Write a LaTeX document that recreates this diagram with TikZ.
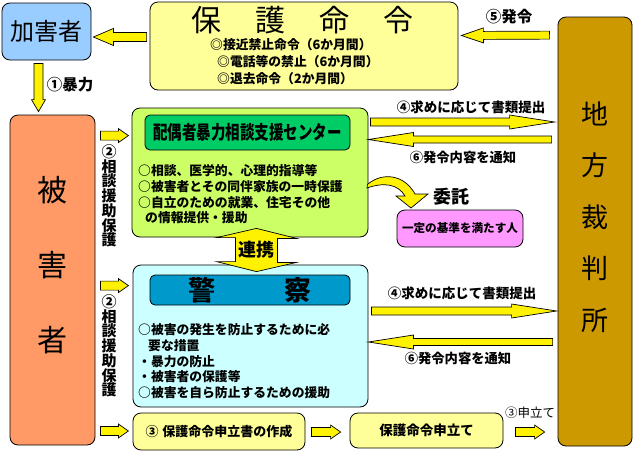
\documentclass[tikz,border=0pt]{standalone}
\usepackage{fontspec}
\usepackage{graphicx}
\setmainfont{Noto Sans CJK JP}
\usetikzlibrary{calc}
\definecolor{kagaiblue}{HTML}{99CCFF}
\definecolor{paleyellow}{HTML}{FFFF99}
\definecolor{courtgold}{HTML}{CC9900}
\definecolor{higaisalmon}{HTML}{FF9966}
\definecolor{centerlime}{HTML}{CCFF66}
\definecolor{centergreen}{HTML}{00CC66}
\definecolor{policecyan}{HTML}{CCFFFF}
\definecolor{policeblue}{HTML}{0099CC}
\definecolor{pinkbox}{HTML}{FF99FF}
\tikzstyle{box}=[draw=black,rounded corners=8pt,inner sep=0pt,line width=.8pt]
\tikzstyle{titlebox}=[draw=black,rounded corners=5pt,inner sep=0pt,line width=.8pt]
\tikzstyle{yarrow}=[fill=yellow,draw=black,line width=.7pt]
\tikzstyle{line}=[inner sep=0pt,anchor=base west,font=\bfseries\fontsize{12.8}{15}\selectfont]
\tikzstyle{lbl}=[inner sep=0pt,font=\bfseries\fontsize{13.5}{16}\selectfont]
\tikzstyle{vlbl}=[inner sep=0pt,align=center,font=\bfseries\fontsize{15}{14.7}\selectfont]
% start, tip, shaft half width, head length, head half width
\newcommand{\blockarrow}[5]{%
  \coordinate (hb) at ($(#2)!#4!(#1)$);
  \filldraw[yarrow] ($(#1)!#3!90:(#2)$) -- ($(hb)!#3!90:(#2)$) -- ($(hb)!#5!90:(#2)$)
    -- (#2) -- ($(hb)!#5!-90:(#2)$) -- ($(hb)!#3!-90:(#2)$) -- ($(#1)!#3!-90:(#2)$) -- cycle;
}
\begin{document}
\begin{tikzpicture}[x=1pt,y=-1pt]
  \useasboundingbox (0,0) rectangle (633,451);

  \node[box,fill=kagaiblue,minimum width=89pt,minimum height=57pt] (kagai) at (46.5,31.5)
    {\fontsize{24}{24}\selectfont 加害者};
  \node[box,fill=paleyellow,minimum width=308pt,minimum height=88pt] (hogo) at (304,46) {};
  \node[box,fill=courtgold,minimum width=74pt,minimum height=429pt] (court) at (595,231.5) {};
  \node[box,fill=higaisalmon,minimum width=85pt,minimum height=330pt] (higai) at (52.5,280) {};
  \node[box,fill=centerlime,minimum width=236pt,minimum height=129pt] (center) at (250,172.5) {};
  \node[titlebox,fill=centergreen,minimum width=205pt,minimum height=35pt] (ctitle) at (247.5,132.5)
    {\bfseries\fontsize{14.5}{15}\selectfont\scalebox{1}[1.3]{配偶者暴力相談支援センター}};
  \node[box,fill=policecyan,minimum width=235pt,minimum height=142pt] (police) at (250.5,336) {};
  \node[titlebox,fill=policeblue,minimum width=200pt,minimum height=30pt] (ptitle) at (250,290)
    {\bfseries\fontsize{27}{27}\selectfont 警\hspace{70pt}察};
  \node[box,fill=pinkbox,minimum width=126pt,minimum height=37pt] (hito) at (460,228.5)
    {\bfseries\fontsize{11.6}{12}\selectfont 一定の基準を満たす人};
  \node[box,fill=paleyellow,minimum width=172pt,minimum height=37pt] (make) at (219,431.5)
    {\bfseries\fontsize{13}{13}\selectfont ③\hspace{4pt}保護命令申立書の作成};
  \node[box,fill=paleyellow,minimum width=153pt,minimum height=35pt] (moushi) at (426.5,430.5)
    {\bfseries\fontsize{13.5}{14}\selectfont 保護命令申立て};

  % texts in the boxes
  \node[inner sep=0pt] (hogot) at (302.5,20)
    {\fontsize{30}{30}\selectfont 保\hspace{34pt}護\hspace{34pt}命\hspace{34pt}令};
  \node[line] (h1) at (210,49.8) {◎接近禁止命令（6か月間）};
  \node[line] (h2) at (217,66.8) {◎電話等の禁止（6か月間）};
  \node[line] (h3) at (217,83.8) {◎退去命令（2か月間）};
  \node[inner sep=0pt,align=center,font=\fontsize{30}{75}\selectfont] (higait) at (52.5,265) {被\\害\\者};
  \node[inner sep=0pt,align=center,font=\fontsize{27}{51.5}\selectfont] (courtt) at (595,217) {地\\方\\裁\\判\\所};

  \node[line] (c1) at (138,175.8) {○相談、医学的、心理的指導等};
  \node[line] (c2) at (138,191.8) {○被害者とその同伴家族の一時保護};
  \node[line] (c3) at (138,207.8) {○自立のための就業、住宅その他};
  \node[line] (c4) at (145,222.8) {の情報提供・援助};

  \node[line] (p1) at (138,334.8) {○被害の発生を防止するために必};
  \node[line] (p2) at (148,350.8) {要な措置};
  \node[line] (p3) at (138,366.8) {・暴力の防止};
  \node[line] (p4) at (138,381.8) {・被害者の保護等};
  \node[line] (p5) at (138,397.8) {○被害を自ら防止するための援助};

  % arrows
  \coordinate (s1) at ($(hogo.west)+(-3,-9)$);
  \coordinate (t1) at ($(kagai.east)+(2,5.5)$);
  \blockarrow{s1}{t1}{4.5pt}{20pt}{8.5pt}
  \coordinate (s2) at ($(court.north west)+(-8,18.5)$);
  \coordinate (t2) at ($(hogo.east)+(3,-10.5)$);
  \blockarrow{s2}{t2}{4pt}{22pt}{7.5pt}
  \coordinate (s3) at ($(kagai.south)+(-8,3)$);
  \coordinate (t3) at ($(higai.north)+(-14,-3)$);
  \blockarrow{s3}{t3}{4.5pt}{12pt}{7pt}
  \coordinate (s4) at ($(higai.east |- center.north)+(5,28)$);
  \coordinate (t4) at ($(s4)+(28,0)$);
  \blockarrow{s4}{t4}{4.5pt}{10pt}{7pt}
  \coordinate (s5) at ($(higai.east |- police.north)+(5,21)$);
  \coordinate (t5) at ($(s5)+(28,0)$);
  \blockarrow{s5}{t5}{4.5pt}{10pt}{7pt}
  \coordinate (s6) at ($(higai.east |- make.west)+(5,-0.5)$);
  \coordinate (t6) at ($(s6)+(28,0)$);
  \blockarrow{s6}{t6}{4.5pt}{10pt}{7pt}
  \coordinate (s7) at ($(make.east)+(6,0.5)$);
  \coordinate (t7) at ($(moushi.west)+(-9,1.5)$);
  \blockarrow{s7}{t7}{4.5pt}{10pt}{7pt}
  \coordinate (s8) at ($(moushi.east)+(12,1.5)$);
  \coordinate (t8) at ($(court.west |- s8)+(-13,0)$);
  \blockarrow{s8}{t8}{4.5pt}{10pt}{7pt}
  \coordinate (s9) at ($(center.east)+(2,-50.5)$);
  \coordinate (t9) at ($(court.west |- s9)+(-3,0)$);
  \blockarrow{s9}{t9}{4pt}{45pt}{7pt}
  \coordinate (s10) at ($(court.west)+(-6,-92)$);
  \coordinate (t10) at (center.east |- s10);
  \blockarrow{s10}{t10}{3.5pt}{45pt}{7pt}
  \coordinate (s11) at ($(police.east)+(3,-25)$);
  \coordinate (t11) at ($(court.west |- s11)+(-1,0)$);
  \blockarrow{s11}{t11}{4pt}{45pt}{7pt}
  \coordinate (s12) at ($(court.west |- police.east)+(-5,6)$);
  \coordinate (t12) at ($(police.east)+(0,6)$);
  \blockarrow{s12}{t12}{3.5pt}{45pt}{7pt}

  % renkei
  \coordinate (rt) at ($(center.south)+(6.5,-9)$);
  \coordinate (rb) at ($(police.north)+(6,7)$);
  \filldraw[yarrow] (rt) -- ++(40,10) -- ++(-19,0) -- ++(0,24) -- ++(19,0) -- (rb)
    -- ++(-40,-10) -- ++(19,0) -- ++(0,-24) -- ++(-19,0) -- cycle;
  \node[inner sep=0pt,font=\bfseries\fontsize{18}{18}\selectfont] (renkei) at ($(rt)!.5!(rb)$) {連携};

  % itaku
  \filldraw[yarrow] ($(center.east)+(-1,12)$) .. controls (382,172) and (404,174) .. (415,194)
    -- (428,194) -- (411,208) -- (396,196) -- (405,196) .. controls (398,184) and (384,182) .. (367,188) -- cycle;

  % labels
  \node[lbl,font=\bfseries\fontsize{15.5}{16}\selectfont] (bouryoku) at (70,85) {①暴力};
  \node[lbl,font=\bfseries\fontsize{15.5}{16}\selectfont] (hatsurei) at (509,17) {⑤発令};
  \node[lbl] (teishutsu1) at (471,107) {④求めに応じて書類提出};
  \node[lbl,font=\bfseries\fontsize{13.3}{16}\selectfont] (tsuchi1) at (463,157) {⑥発令内容を通知};
  \node[lbl] (teishutsu2) at (462,293) {④求めに応じて書類提出};
  \node[lbl,font=\bfseries\fontsize{13.3}{16}\selectfont] (tsuchi2) at (458,358) {⑥発令内容を通知};
  \node[lbl,font=\bfseries\fontsize{18}{18}\selectfont] (itaku) at (451,197) {委託};
  \node[inner sep=0pt,font=\fontsize{12.5}{13}\selectfont] (moushitate) at (530,413) {③申立て};
  \node[vlbl] (soudan1) at (109,196) {②\\相\\談\\援\\助\\保\\護};
  \node[vlbl] (soudan2) at (109,346) {②\\相\\談\\援\\助\\保\\護};
\end{tikzpicture}
\end{document}
